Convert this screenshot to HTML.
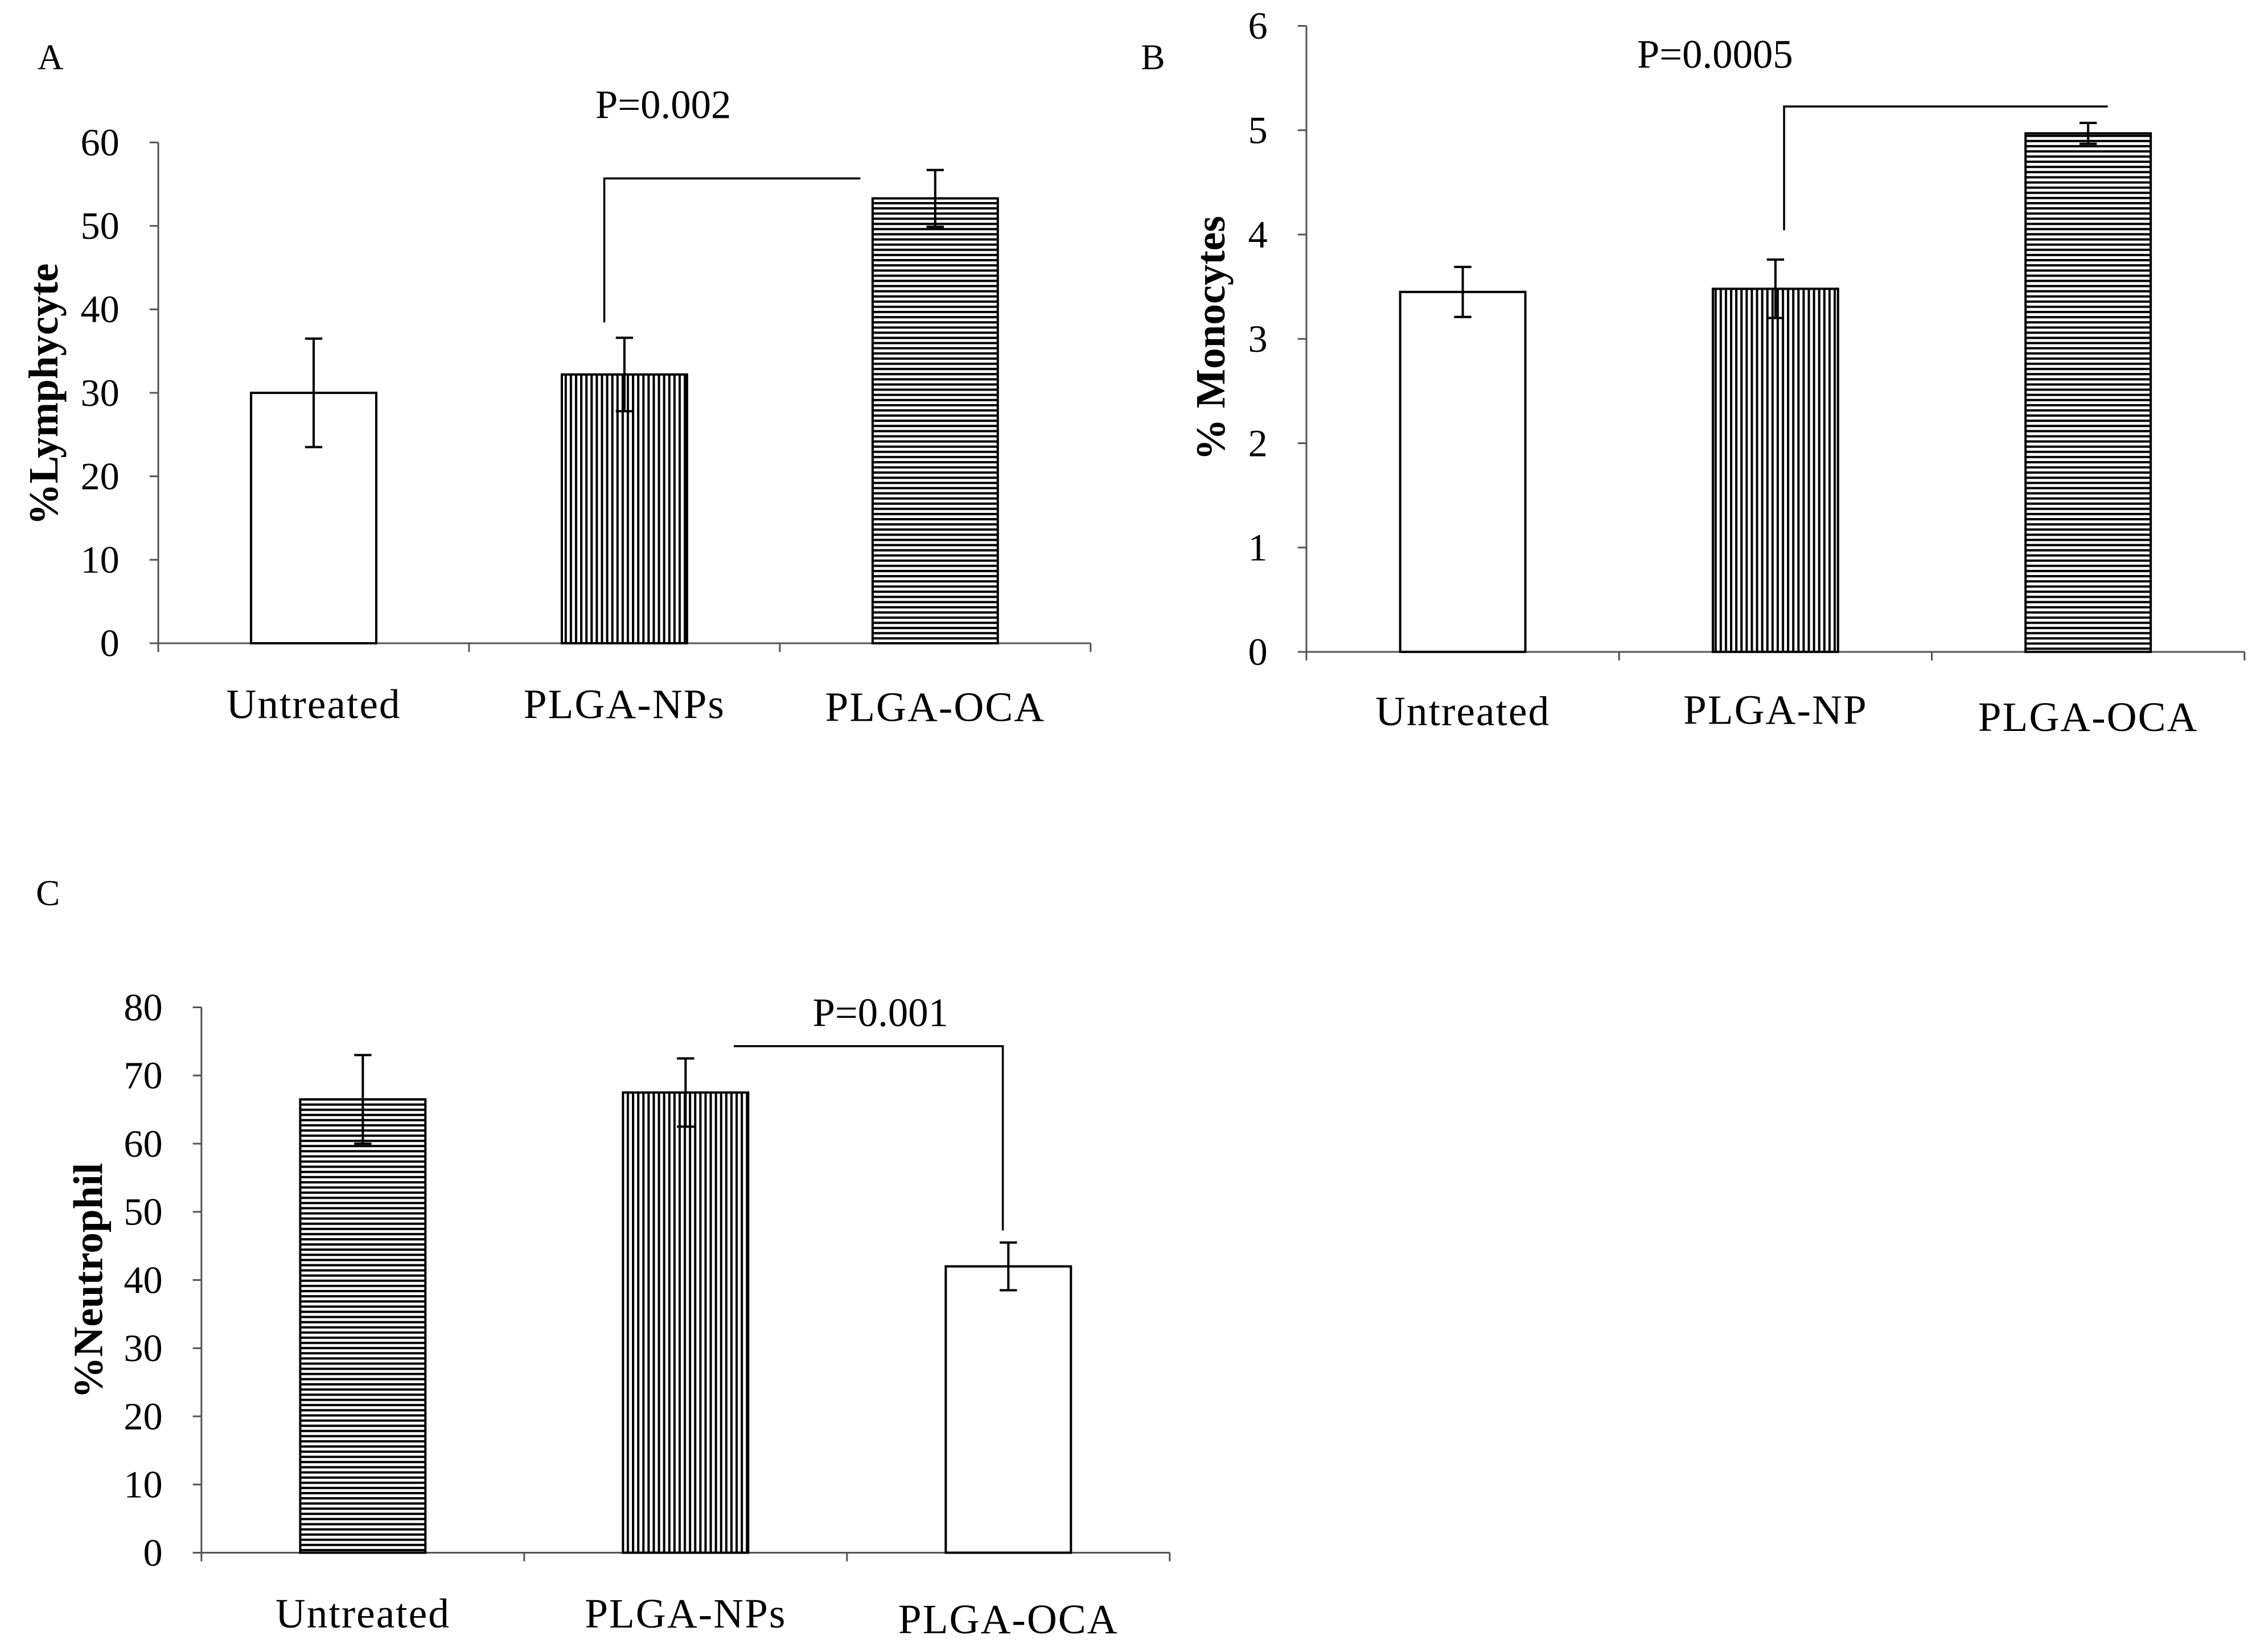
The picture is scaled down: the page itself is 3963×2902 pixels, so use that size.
<!DOCTYPE html>
<html><head><meta charset="utf-8"><style>
html,body{margin:0;padding:0;background:#fff;}
svg{display:block;font-family:"Liberation Serif",serif;}
</style></head><body>
<svg id="fig" width="3963" height="2902" viewBox="0 0 1568 1148" preserveAspectRatio="none" xmlns="http://www.w3.org/2000/svg">
<defs>
<pattern id="vert" patternUnits="userSpaceOnUse" width="3.6" height="10"><rect width="3.6" height="10" fill="#fff"/><rect x="0" width="1.6" height="10" fill="#000"/></pattern>
<pattern id="horiz" patternUnits="userSpaceOnUse" width="10" height="3.6"><rect width="10" height="3.6" fill="#fff"/><rect y="0" width="10" height="1.6" fill="#000"/></pattern>
</defs>
<g id="panels"></g>
</svg>
<script>
const catsA=["Untreated","PLGA-NPs","PLGA-OCA"];
const valsA=[30,32.2,53.3];
const errA=[6.5,4.4,3.4];
const ticksA=[0,10,20,30,40,50,60];
const catsB=["Untreated","PLGA-NP","PLGA-OCA"];
const valsB=[3.45,3.48,4.97];
const errB=[0.24,0.28,0.1];
const ticksB=[0,1,2,3,4,5,6];
const catsC=["Untreated","PLGA-NPs","PLGA-OCA"];
const valsC=[66.5,67.5,42];
const errC=[6.5,5,3.5];
const ticksC=[0,10,20,30,40,50,60,70,80];

const NS="http://www.w3.org/2000/svg";
const root=document.getElementById('panels');
function mk(tag,attrs,parent,text){const e=document.createElementNS(NS,tag);for(const k in attrs)e.setAttribute(k,attrs[k]);if(text!==undefined)e.textContent=text;(parent||root).appendChild(e);return e;}

function panel(cfg){
  const g=mk('g',{});
  
  
  const y=v=>cfg.y0-(v-cfg.ticks[0])/(cfg.ticks[cfg.ticks.length-1]-cfg.ticks[0])*(cfg.y0-cfg.yTop);
  const step=(cfg.xEnd-cfg.x0)/cfg.cats.length;
  const xc=i=>cfg.x0+step*(i+0.5);
  const ya=mk('line',{x1:cfg.x0,y1:cfg.yTop,x2:cfg.x0,y2:cfg.y0,stroke:'#555','stroke-width':1.2},g);
  
  
  const xa=mk('line',{x1:cfg.x0,y1:cfg.y0,x2:cfg.xEnd,y2:cfg.y0,stroke:'#555','stroke-width':1.2},g);
  
  
  cfg.ticks.forEach(t=>{
    mk('line',{x1:cfg.x0-6,y1:y(t),x2:cfg.x0,y2:y(t),stroke:'#555','stroke-width':1.2},g);
    const tl=mk('text',{x:cfg.x0-27,y:y(t)+9,'text-anchor':'end','font-size':27},g,String(t));
    
    
  });
  for(let i=0;i<=cfg.cats.length;i++){
    mk('line',{x1:cfg.x0+step*i,y1:cfg.y0,x2:cfg.x0+step*i,y2:cfg.y0+6,stroke:'#555','stroke-width':1.2},g);
  }
  const bw=87;
  cfg.cats.forEach((c,i)=>{
    const b=mk('rect',{x:xc(i)-bw/2,y:y(cfg.vals[i]),width:bw,height:cfg.y0-y(cfg.vals[i]),fill:cfg.fills[i],stroke:'#000','stroke-width':1.6},g);
    
    
    const lo=y(cfg.vals[i]-cfg.err[i]),hi=y(cfg.vals[i]+cfg.err[i]);
    const eb=mk('path',{d:`M${xc(i)} ${lo}V${hi}M${xc(i)-6} ${lo}H${xc(i)+6}M${xc(i)-6} ${hi}H${xc(i)+6}`,stroke:'#000','stroke-width':1.6,fill:'none'},g);
    
    
    const cl=mk('text',{x:xc(i),y:cfg.labelY[i],'text-anchor':'middle','font-size':29,'letter-spacing':0.8},g,c);
    
    
  });
  const yt=mk('text',{x:0,y:0,'text-anchor':'middle','font-size':29,'font-weight':'bold',transform:`translate(${cfg.titleX},${cfg.titleY}) rotate(-90)`},g,cfg.title);
  
  
  const pl=mk('text',{x:cfg.letterX,y:cfg.letterY,'font-size':25},g,cfg.letter);
  
  
  const br=mk('path',{d:cfg.bracket,stroke:'#000','stroke-width':1.4,fill:'none'},g);
  
  
  const pv=mk('text',{x:cfg.pX,y:cfg.pY,'text-anchor':'middle','font-size':28},g,cfg.p);
  
  
}

panel({name:'panel-a-lymphocyte',cats:catsA,vals:valsA,err:errA,ticks:ticksA,x0:110,xEnd:758,y0:447,yTop:99,
 fills:['#fff','url(#vert)','url(#horiz)'],labelY:[499,499,501],title:'%Lymphycyte',titleX:40,titleY:274,
 letter:'A',letterX:26,letterY:48,bracket:'M420 224V124H598',p:'P=0.002',pX:461,pY:82});
panel({name:'panel-b-monocytes',cats:catsB,vals:valsB,err:errB,ticks:ticksB,x0:908,xEnd:1560,y0:453,yTop:18,
 fills:['#fff','url(#vert)','url(#horiz)'],labelY:[504,503,508],title:'% Monocytes',titleX:851,titleY:235,
 letter:'B',letterX:793,letterY:48,bracket:'M1240 160V74H1465',p:'P=0.0005',pX:1192,pY:47});
panel({name:'panel-c-neutrophil',cats:catsC,vals:valsC,err:errC,ticks:ticksC,x0:140,xEnd:813,y0:1079,yTop:700,
 fills:['url(#horiz)','url(#vert)','#fff'],labelY:[1131,1131,1135],title:'%Neutrophil',titleX:71,titleY:890,
 letter:'C',letterX:25,letterY:629,bracket:'M510 727H697V855',p:'P=0.001',pX:612,pY:713});
</script>
</body></html>
